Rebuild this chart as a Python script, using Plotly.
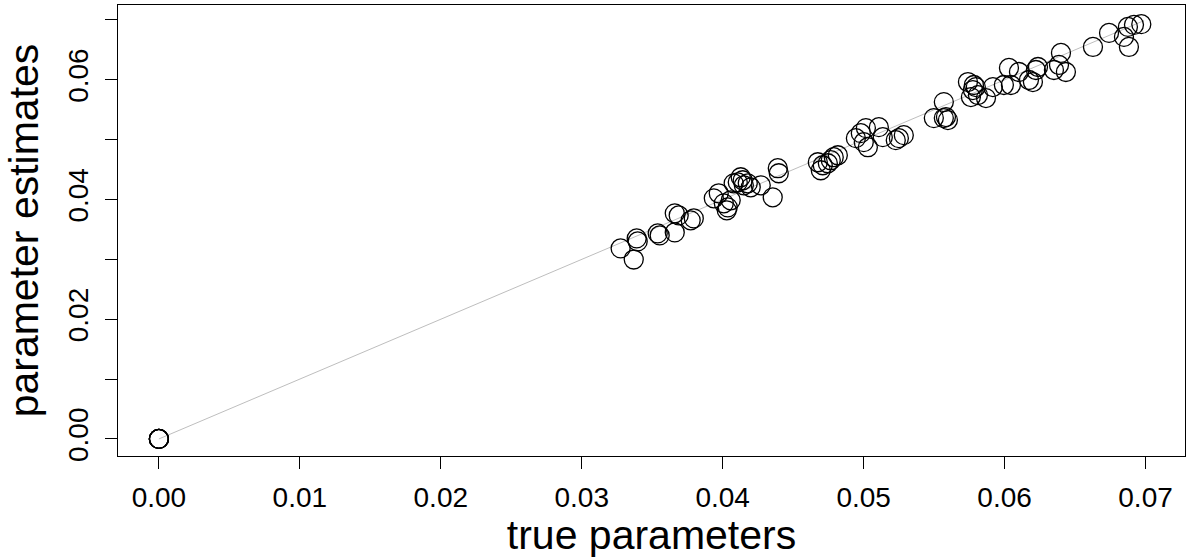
import plotly.graph_objects as go

# true parameter values (x) and their estimates (y)
true_params = [0, 0, 0, 0, 0,
    0.03276, 0.03369, 0.03390, 0.03397, 0.03539, 0.03553, 0.03660, 0.03660, 0.03688, 0.03773,
    0.03795, 0.03937, 0.03972, 0.04008, 0.04029, 0.04036, 0.04057, 0.04078, 0.04107, 0.04128,
    0.04142, 0.04150, 0.04178, 0.04199, 0.04270, 0.04355, 0.04391, 0.04398, 0.04675, 0.04696,
    0.04710, 0.04746, 0.04767, 0.04788, 0.04817, 0.04945, 0.04980, 0.05001, 0.05030, 0.05016,
    0.05108, 0.05136, 0.05228, 0.05250, 0.05285, 0.05498, 0.05569, 0.05569, 0.05584, 0.05598,
    0.05740, 0.05775, 0.05782, 0.05796, 0.05811, 0.05761, 0.05868, 0.05917, 0.05995, 0.06031,
    0.06045, 0.06102, 0.06173, 0.06201, 0.06237, 0.06222, 0.06350, 0.06400, 0.06386, 0.06435,
    0.06627, 0.06741, 0.06847, 0.06875, 0.06882, 0.06918, 0.06970]
estimates = [0, 0, 0, 0, 0,
    0.03183, 0.02998, 0.03350, 0.03300, 0.03434, 0.03400, 0.03451, 0.03769, 0.03735, 0.03652,
    0.03685, 0.04020, 0.04104, 0.03936, 0.03819, 0.03869, 0.03987, 0.04271, 0.04288, 0.04372,
    0.04322, 0.04238, 0.04271, 0.04204, 0.04238, 0.04037, 0.04523, 0.04439, 0.04623, 0.04489,
    0.04573, 0.04606, 0.04657, 0.04707, 0.04740, 0.05025, 0.05109, 0.04958, 0.04874, 0.05193,
    0.05209, 0.05042, 0.04992, 0.05025, 0.05075, 0.05360, 0.05628, 0.05360, 0.05377, 0.05327,
    0.05963, 0.05829, 0.05913, 0.05879, 0.05745, 0.05712, 0.05695, 0.05879, 0.05913, 0.06198,
    0.05913, 0.06131, 0.05997, 0.05963, 0.06214, 0.06164, 0.06164, 0.06449, 0.06248, 0.06131,
    0.06549, 0.06784, 0.06717, 0.06884, 0.06549, 0.06918, 0.06930]

# identity reference line
ref_line = [0.0, 0.0699]

x_ticks = [0.00, 0.01, 0.02, 0.03, 0.04, 0.05, 0.06, 0.07]
x_labels = ["0.00", "0.01", "0.02", "0.03", "0.04", "0.05", "0.06", "0.07"]
y_ticks = [0.00, 0.01, 0.02, 0.03, 0.04, 0.05, 0.06, 0.07]
y_labels = ["0.00", "", "0.02", "", "0.04", "", "0.06", ""]

FONT = "Liberation Sans, Arial, Helvetica, sans-serif"

fig = go.Figure()
fig.add_trace(go.Scatter(x=ref_line, y=ref_line, mode="lines",
                         line=dict(color="#BEBEBE", width=1), hoverinfo="skip",
                         showlegend=False))
fig.add_trace(go.Scatter(x=true_params, y=estimates, mode="markers",
                         marker=dict(symbol="circle-open", size=19, color="black",
                                     line=dict(color="black", width=1.3)),
                         showlegend=False))

axis_common = dict(showgrid=False, zeroline=False, showline=True, linecolor="black",
                   linewidth=1, mirror=True, ticks="outside", ticklen=12, tickwidth=1,
                   tickcolor="black", tickfont=dict(family=FONT, size=28, color="black"))

fig.update_layout(
    width=1188, height=558,
    margin=dict(l=118, r=3, t=5, b=102),
    paper_bgcolor="white", plot_bgcolor="white",
    xaxis=dict(range=[-0.0029, 0.0728], tickvals=x_ticks, ticktext=x_labels,
               title=dict(text="true parameters", font=dict(family=FONT, size=41, color="black"),
                          standoff=9),
               ticklabelstandoff=4, **axis_common),
    yaxis=dict(range=[-0.00285, 0.0725], tickvals=y_ticks, ticktext=y_labels,
               tickangle=-90,
               title=dict(text="parameter estimates", font=dict(family=FONT, size=41, color="black"),
                          standoff=11),
               ticklabelstandoff=6, **axis_common),
)

fig.write_html("out.html")
